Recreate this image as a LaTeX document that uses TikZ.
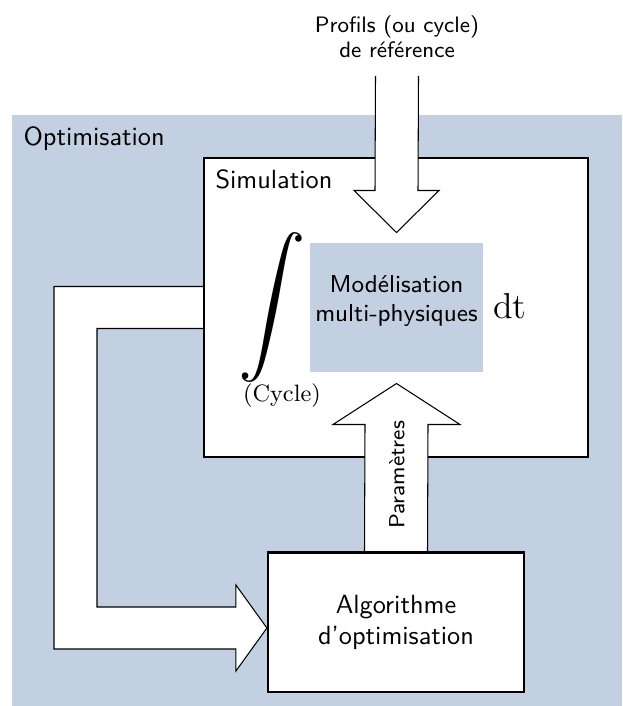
\documentclass[tikz,border=0pt]{standalone}
\usepackage{graphicx}
\usetikzlibrary{positioning,calc}
\definecolor{optblue}{RGB}{194,208,226}

\begin{document}
\begin{tikzpicture}[x=0.38pt, y=-0.38pt, font=\sffamily,
    box/.style={draw, line width=0.8pt, fill=white, inner sep=0pt},
    bigarrow/.style={draw, line width=0.4pt, fill=white, line join=miter}]
    \useasboundingbox (0,0) rectangle (622,706);

    % Optimisation loop
    \fill[optblue] (11.5,115) rectangle (622,706);
    \node[anchor=base west, inner sep=0pt] (opt) at (23,145) {Optimisation};

    % Simulation block
    \node[box, minimum width=145.9pt, minimum height=113.6pt] (sim) at (396,307.5) {};
    \node[anchor=base west, inner sep=0pt] (simlabel) at (215,188) {Simulation};
    \node[fill=optblue, inner sep=0pt, minimum width=65.7pt, minimum height=49pt] (model) at (396.5,307.5) {};
    \node[align=center, font=\sffamily\fontsize{9.3}{11}\selectfont] (modeltext) at (396.5,301) {Modélisation\\multi-physiques};
    \node[inner sep=0pt] (int) at (272,307.5) {\resizebox*{!}{57pt}{$\displaystyle\int$}};
    \node[font=\rmfamily\fontsize{9}{11}\selectfont] (cycle) at (282,396) {(Cycle)};
    \node[font=\rmfamily\fontsize{13.7}{16}\selectfont] (dt) at (510,306) {dt};

    % Algorithm block
    \node[box, minimum width=97.3pt, minimum height=52.8pt, align=center] (algo) at (396,622.5) {Algorithme\\d'optimisation};

    % Reference profile arrow
    \node[align=center, font=\sffamily\fontsize{8.5}{9.6}\selectfont] (profils) at (397,37) {Profils (ou cycle)\\de référence};
    \coordinate (toptip) at ($(model.north)+(0,-10)$);
    \draw[bigarrow] ($(profils.south)+(-21.5,8.5)$) -- ($(toptip)+(-21.5,-42)$) -- ($(toptip)+(-42.5,-42)$) -- (toptip)
        -- ($(toptip)+(42.5,-42)$) -- ($(toptip)+(21.5,-42)$) -- ($(profils.south)+(21.5,8.5)$);

    % Parameters arrow
    \coordinate (uptip) at ($(model.south)+(0,11)$);
    \draw[bigarrow] ($(algo.north)+(-31.5,0)$) -- ($(uptip)+(-31.5,41)$) -- ($(uptip)+(-63.5,41)$) -- (uptip)
        -- ($(uptip)+(63.5,41)$) -- ($(uptip)+(31.5,41)$) -- ($(algo.north)+(31.5,0)$);
    \draw[line width=0.8pt] (algo.north west) -- (algo.north east);
    \node[rotate=90, font=\sffamily\fontsize{8.3}{10}\selectfont] (param) at (397,475) {Paramètres};

    % Feedback arrow
    \coordinate (ltip) at ($(algo.west)+(0,5.5)$);
    \draw[bigarrow] ($(sim.west)+(0,-21)$) -- ++(-149,0) |- ($(ltip)+(-31,21)$) -- ($(ltip)+(-31,43)$) -- (ltip)
        -- ($(ltip)+(-31,-43)$) -- ($(ltip)+(-31,-21)$) -| ($(sim.west)+(-106,21)$) -- ($(sim.west)+(0,21)$);
\end{tikzpicture}
\end{document}
